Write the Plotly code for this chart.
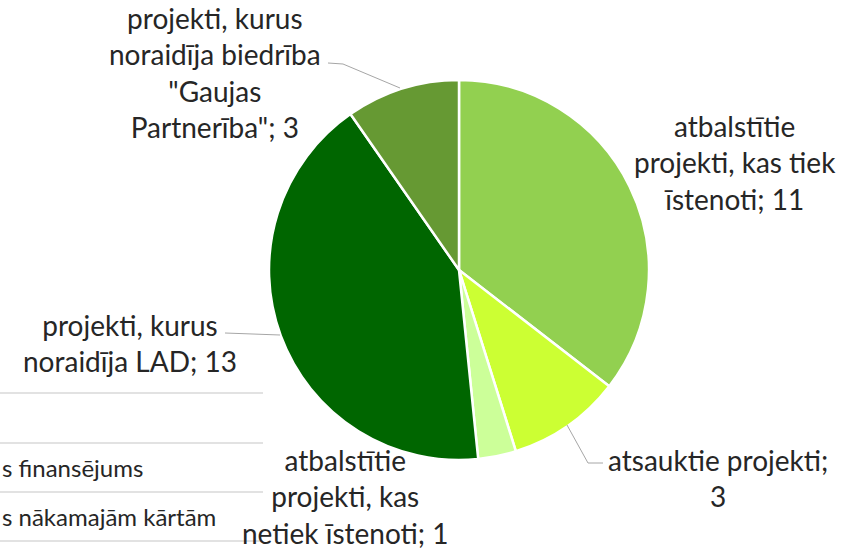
import plotly.graph_objects as go

categories = [
    "atbalstītie projekti, kas tiek īstenoti",
    "atsauktie projekti",
    "atbalstītie projekti, kas netiek īstenoti",
    "projekti, kurus noraidīja LAD",
    "projekti, kurus noraidīja biedrība \"Gaujas Partnerība\"",
]
values = [11, 3, 1, 13, 3]
colors = ["#92D050", "#CCFF33", "#CCFF99", "#006600", "#669933"]
label_texts = [
    "atbalstītie<br>projekti, kas tiek<br>īstenoti; 11",
    "atsauktie projekti;<br>3",
    "atbalstītie<br>projekti, kas<br>netiek īstenoti; 1",
    "projekti, kurus<br>noraidīja LAD; 13",
    "projekti, kurus<br>noraidīja biedrība<br>\"Gaujas<br>Partnerība\"; 3",
]
table_texts = ["s finansējums", "s nākamajām kārtām"]

W, H = 856, 550
def px(x):
    return x / W
def py(y):
    return 1 - y / H

cx, cy, r = 459, 270, 190

fig = go.Figure(go.Pie(
    labels=categories, values=values, sort=False, direction="clockwise", rotation=0,
    marker=dict(colors=colors, line=dict(color="white", width=2.5)),
    textinfo="none", hoverinfo="label+value", showlegend=False,
    domain=dict(x=[px(cx - r), px(cx + r)], y=[py(cy + r), py(cy - r)]),
))

font = dict(family="Lato, Calibri, sans-serif", size=28, color="#262626")
# label centers (pixels)
label_pos = [(735, 162), (718, 478), (345, 496), (130, 343), (215, 73)]
annotations = []
for t, (x, y) in zip(label_texts, label_pos):
    annotations.append(dict(text=t, x=px(x), y=py(y), xref="paper", yref="paper",
                            showarrow=False, xanchor="center", yanchor="middle",
                            font=font, align="center"))
for t, y in zip(table_texts, [467, 516]):
    annotations.append(dict(text=t, x=0, y=py(y), xref="paper", yref="paper",
                            showarrow=False, xanchor="left", yanchor="middle",
                            font=dict(family="Lato, Calibri, sans-serif", size=24, color="#262626")))

line_style = dict(color="#A6A6A6", width=1)
shapes = []
leaders = [
    [(328, 63), (343, 64), (400, 88)],
    [(225, 333), (280, 335)],
    [(567, 425), (588, 463), (603, 463)],
]
for pts in leaders:
    path = "M " + " L ".join(f"{px(x)},{py(y)}" for x, y in pts)
    shapes.append(dict(type="path", path=path, xref="paper", yref="paper", line=line_style))
for y in [393, 443, 492, 541]:
    shapes.append(dict(type="line", x0=0, x1=px(263), y0=py(y), y1=py(y),
                       xref="paper", yref="paper", line=dict(color="#D9D9D9", width=1.5),
                       layer="below"))

fig.update_layout(width=W, height=H, margin=dict(l=0, r=0, t=0, b=0),
                  paper_bgcolor="white", plot_bgcolor="white",
                  annotations=annotations, shapes=shapes)
fig.write_html("out.html", config={"displayModeBar": False},
               post_script="document.body.style.margin='0';document.body.style.overflow='hidden';")
